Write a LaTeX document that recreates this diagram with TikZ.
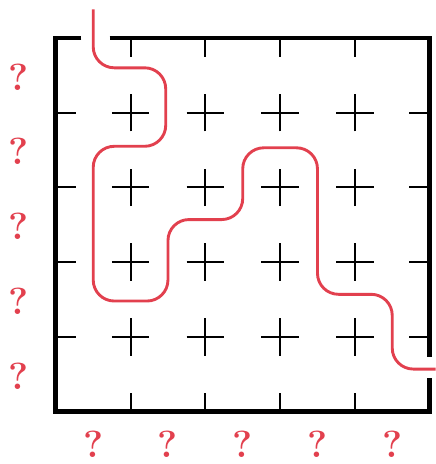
\documentclass[tikz,border=0pt]{standalone}
\usepackage{xcolor}
\usepackage{tikz}
\definecolor{mazered}{RGB}{226,64,78}

\begin{document}
\begin{tikzpicture}[
  wall/.style={line width=1.8pt, black, line join=miter},
  tick/.style={line width=0.8pt, black},
  route/.style={line width=1.1pt, mazered, rounded corners=8pt},
  qmark/.style={text=mazered, font=\Large\bfseries, inner sep=0pt}
]
\useasboundingbox (-0.747,-0.7) rectangle (5.08,5.507);

% ── Outer walls with entrance and exit gaps ──
\draw[wall] (0.343,5) -- (0,5) -- (0,0) -- (5,0) -- (5,0.453);
\draw[wall] (0.72,5) -- (5,5) -- (5,0.733);

% ── Border ticks and inner crosses ──
\foreach \k in {1,...,4} {
  \draw[tick] (\k,5) -- ++(0,-0.25);
  \draw[tick] (\k,0) -- ++(0,0.25);
  \draw[tick] (0,\k) -- ++(0.27,0);
  \draw[tick] (5,\k) -- ++(-0.27,0);
}
\foreach \i in {1,...,4}
  \foreach \j in {1,...,4}
    \draw[tick] (\i-0.25,\j) -- (\i+0.25,\j) (\i,\j-0.25) -- (\i,\j+0.25);

% ── Route through the grid ──
\draw[route] (0.5,5.38) -- (0.5,4.6) -- (1.47,4.6) -- (1.47,3.55) -- (0.5,3.55)
  -- (0.5,1.48) -- (1.5,1.48) -- (1.5,2.57) -- (2.5,2.57) -- (2.5,3.53)
  -- (3.5,3.53) -- (3.5,1.57) -- (4.5,1.57) -- (4.5,0.57) -- (5.08,0.57);

% ── Question marks ──
\foreach \k in {0,...,4} {
  \node[qmark] (row\k) at (-0.5,\k+0.48) {?};
  \node[qmark] (col\k) at (\k+0.5,-0.43) {?};
}
\end{tikzpicture}
\end{document}
